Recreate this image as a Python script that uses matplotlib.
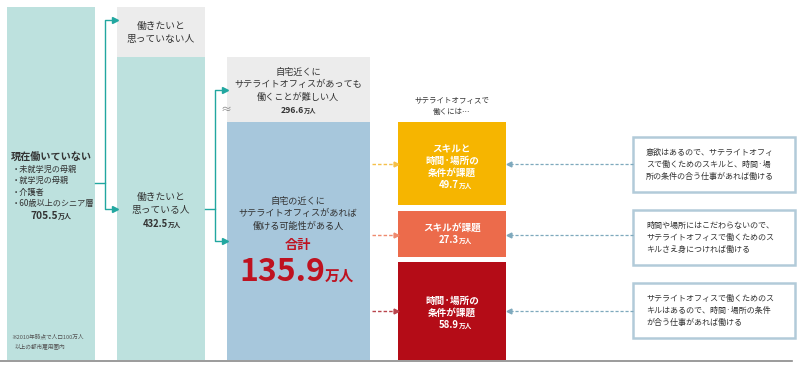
import matplotlib
matplotlib.use("Agg")
import matplotlib.pyplot as plt
from matplotlib.patches import Rectangle

plt.rcParams['font.family'] = ['Noto Sans CJK JP', 'DejaVu Sans']

# values (万人)
total_not_working = 705.5
want_work = 432.5
hard_to_work = 296.6
possible_total = 135.9
group_names = ["スキルと\n時間·場所の\n条件が課題", "スキルが課題", "時間·場所の\n条件が課題"]
group_values = [49.7, 27.3, 58.9]
group_colors = ["#f6b500", "#ec6b4b", "#b40c17"]
group_notes = [
    "意欲はあるので、サテライトオフィ\nスで働くためのスキルと、時間·場\n所の条件の合う仕事があれば働ける",
    "時間や場所にはこだわらないので、\nサテライトオフィスで働くためのス\nキルさえ身につければ働ける",
    "サテライトオフィスで働くためのス\nキルはあるので、時間·場所の条件\nが合う仕事があれば働ける",
]
bullets = ["・未就学児の母親", "・就学児の母親", "・介護者", "・60歳以上のシニア層"]

TEAL = "#bde1de"
GRAY = "#ececec"
BLUE = "#a7c7dc"
TXT = "#333333"
ARROW = "#22a7a0"
NOTE_ARROW = "#7ea9bd"
BORDER = "#b2cbd9"
RED_TXT = "#be1220"

fig = plt.figure(figsize=(8, 3.69), dpi=100)
ax = fig.add_axes([0, 0, 1, 1])
ax.set_xlim(0, 800)
ax.set_ylim(369, 0)
ax.axis('off')


def box(x0, y0, x1, y1, color, **kw):
    ax.add_patch(Rectangle((x0, y0), x1 - x0, y1 - y0, facecolor=color, edgecolor='none', **kw))


def value_text(cx, y, val, size, unit_size, color=TXT, weight='bold', shift=None):
    # number plus smaller "万人" unit on a shared baseline
    if shift is None:
        shift = unit_size * 1.4
    ax.text(cx + shift, y, f"{val}", ha='right', va='baseline', fontsize=size,
            color=color, fontweight=weight)
    ax.text(cx + shift, y, "万人", ha='left', va='baseline', fontsize=unit_size,
            color=color, fontweight=weight)


# columns
box(7, 7, 95, 360, TEAL)
box(117, 7, 205, 57, GRAY)
box(117, 57, 205, 360, TEAL)
box(227, 57, 370, 122, GRAY)
box(227, 122, 370, 360, BLUE)

group_y = [(122, 205), (211, 257), (262, 360)]
for (y0, y1), c in zip(group_y, group_colors):
    box(398, y0, 506, y1, c)

# baseline
ax.plot([0, 792], [360.5, 360.5], color="#8a8a8a", lw=1.2, zorder=3)

# column 1 text
ax.text(11, 157, "現在働いていない", fontsize=7.3, fontweight='bold', color=TXT, va='center')
for i, b in enumerate(bullets):
    ax.text(12, 169 + i * 11.6, b, fontsize=5.9, color=TXT, va='center')
value_text(51, 219, total_not_working, 7.3, 5.0)
ax.text(11, 337, "※2010年時点で人口100万人", fontsize=4.1, color="#555555", va='center')
ax.text(15, 346, "以上の都市雇用圏内", fontsize=4.1, color="#555555", va='center')

# column 2 text
ax.text(161, 26, "働きたいと", fontsize=7, color=TXT, ha='center', va='center')
ax.text(161, 39, "思っていない人", fontsize=7, color=TXT, ha='center', va='center')
ax.text(161, 197, "働きたいと", fontsize=7, color=TXT, ha='center', va='center')
ax.text(161, 210, "思っている人", fontsize=7, color=TXT, ha='center', va='center')
value_text(161, 227, want_work, 6.8, 4.8)

# column 3 text
for i, t in enumerate(["自宅近くに", "サテライトオフィスがあっても", "働くことが難しい人"]):
    ax.text(298, 72 + i * 12.5, t, fontsize=6.6, color=TXT, ha='center', va='center')
value_text(298, 113, hard_to_work, 6.2, 4.5)
for i, t in enumerate(["自宅の近くに", "サテライトオフィスがあれば", "働ける可能性がある人"]):
    ax.text(298, 201 + i * 12.5, t, fontsize=6.6, color=TXT, ha='center', va='center')
ax.text(298, 245, "合計", fontsize=9.5, fontweight='bold', color=RED_TXT, ha='center', va='center')
value_text(298, 281, possible_total, 23, 10.5, color=RED_TXT, shift=27)

# header over coloured groups
ax.text(452, 101, "サテライトオフィスで", fontsize=5.4, color=TXT, ha='center', va='center')
ax.text(452, 112, "働くには…", fontsize=5.4, color=TXT, ha='center', va='center')

# coloured group text
text_tops = [149, 228, 301]
for name, val, top in zip(group_names, group_values, text_tops):
    lines = name.split("\n")
    for i, t in enumerate(lines):
        ax.text(452, top + i * 11.8, t, fontsize=6.9, fontweight='bold', color='white',
                ha='center', va='center')
    value_text(452, top + len(lines) * 11.8 + 3.5, val, 6.9, 4.8, color='white')

# note boxes
note_y = [(137, 192), (210, 265), (283, 338)]
for (y0, y1), note in zip(note_y, group_notes):
    ax.add_patch(Rectangle((633, y0), 162, y1 - y0, facecolor='white', edgecolor=BORDER, lw=1.8))
    for i, t in enumerate(note.split("\n")):
        ax.text(646, (y0 + y1) / 2 - 12 + i * 12, t, fontsize=5.8, color=TXT, va='center')

# connector arrows (teal)
ax.plot([95, 105, 105, 115], [183, 183, 20, 20], color=ARROW, lw=1)
ax.plot([105, 105, 115], [183, 209, 209], color=ARROW, lw=1)
ax.plot([115], [20], marker='>', color=ARROW, ms=4)
ax.plot([115], [209], marker='>', color=ARROW, ms=4)
ax.plot([205, 215, 215, 225], [209, 209, 90, 90], color=ARROW, lw=1)
ax.plot([215, 215, 225], [209, 241, 241], color=ARROW, lw=1)
ax.plot([225], [90], marker='>', color=ARROW, ms=4)
ax.plot([225], [241], marker='>', color=ARROW, ms=4)
ax.text(226, 110, "≈", fontsize=8, color="#888888", ha='center', va='center')

# dashed arrows to and from coloured groups
arrow_y = [164, 235, 311]
dash_colors = ["#f5c04a", "#ef8a6e", "#b9444c"]
for y, c in zip(arrow_y, dash_colors):
    ax.plot([372, 395], [y, y], color=c, lw=1, ls=(0, (2.5, 1.5)))
    ax.plot([396], [y], marker='>', color=c, ms=3.5)
    ax.plot([510, 633], [y, y], color=NOTE_ARROW, lw=0.9, ls=(0, (2.5, 1.5)))
    ax.plot([509], [y], marker='<', color=NOTE_ARROW, ms=3.5)

fig.savefig("out.png", dpi=100)
